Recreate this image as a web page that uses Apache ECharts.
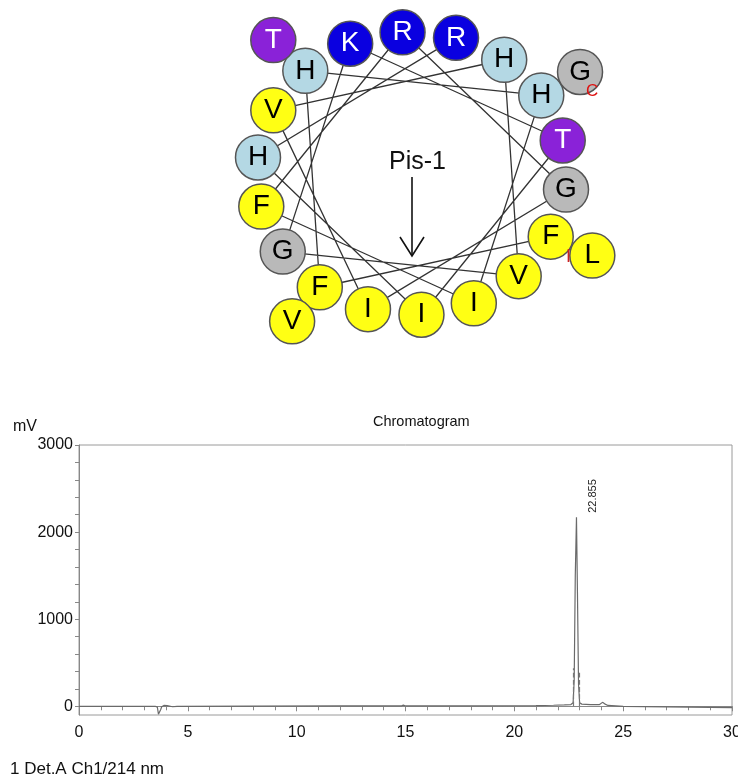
<!DOCTYPE html>
<html><head><meta charset="utf-8">
<script src="https://cdn.jsdelivr.net/npm/echarts@6/dist/echarts.min.js"></script>
<style>html,body{margin:0;padding:0;background:#fff}#c{width:738px;height:778px}</style>
</head><body><div id="c"></div><script>
// ---- Helical wheel data (Pis-1 sequence, N -> C) ----
const sequence = ['F','F','H','H','I','F','R','G','I','V','H','V','G','K','T','I','H','R','L','V','T','G'];
const residueColors = {F:'#ffff14', I:'#ffff14', V:'#ffff14', L:'#ffff14', H:'#b4d8e4', G:'#b9b9b9', K:'#0a00e0', R:'#0a00e0', T:'#8a22d8'};
const whiteLetterResidues = ['K','R','T'];
const firstAngleDeg = 116.5;   // angle of residue 1 (clockwise from top)
const stepAngleDeg = 100;      // alpha-helix rotation per residue
const residuesPerTurnRing = 18;
const ringRadii = [1, 1.3];

// ---- Chromatogram data ----
const timeMin = [0, 3.5, 3.6, 3.65, 3.7, 3.75, 3.8, 3.9, 4.05, 4.3, 4.5, 8, 12, 14.8, 14.9, 15.0, 18, 21, 21.8, 22.3, 22.6, 22.7, 22.75, 22.8, 22.855, 22.9, 22.95, 23.0, 23.1, 23.5, 23.9, 24.05, 24.15, 24.3, 25, 30];
const signalMV = [0, 0, -10, -90, -95, -40, -5, 10, 8, -5, 0, 2, 4, 4, 14, 4, 4, 7, 12, 16, 20, 40, 300, 1500, 2170, 1300, 250, 40, 25, 18, 18, 45, 28, 10, 0, -15];
const markerTimes = [22.71, 22.98];
const markerHeights = [437, 405];
const peakTime = 22.855;
const peakHeight = 2170;
const peakLabel = '22.855';
const xTickLabels = [0, 5, 10, 15, 20, 25, 30];
const yTickLabels = [0, 1000, 2000, 3000];
const yMinorTicks = [0, 200, 400, 600, 800, 1000, 1200, 1400, 1600, 1800, 2000, 2200, 2400, 2600, 2800, 3000];

const FONT = '"Liberation Sans", Arial, sans-serif';

function wheelPos(i) {
  const ring = Math.floor(i / residuesPerTurnRing);
  const a = (firstAngleDeg + stepAngleDeg * i) * Math.PI / 180;
  const r = ringRadii[ring];
  return [r * Math.sin(a), r * Math.cos(a)];
}
const wheelPoints = sequence.map((aa, i) => {
  const p = wheelPos(i);
  const white = whiteLetterResidues.indexOf(aa) >= 0;
  return {
    value: p, name: aa,
    itemStyle: {color: residueColors[aa]},
    label: {color: white ? '#ffffff' : '#000000'}
  };
});
const connectPoints = sequence.slice(0, residuesPerTurnRing).map((aa, i) => wheelPos(i));

const trace = timeMin.map((t, i) => [t, signalMV[i]]);

const chart = echarts.init(document.getElementById('c'), null, {renderer: 'canvas'});
chart.setOption({
  animation: false,
  backgroundColor: '#ffffff',
  textStyle: {fontFamily: FONT},
  title: [
    {text: 'Chromatogram', left: 373, top: 414, padding: 0, textStyle: {fontSize: 14.5, fontWeight: 'normal', color: '#111', fontFamily: FONT}},
    {text: 'mV', left: 13, top: 419, padding: 0, textStyle: {fontSize: 16, fontWeight: 'normal', color: '#111', fontFamily: FONT}},
    {text: '1 Det.A Ch1/214 nm', left: 10, top: 761, padding: 0, textStyle: {fontSize: 17, fontWeight: 'normal', color: '#111', fontFamily: FONT}}
  ],
  grid: [
    {left: 257, top: 32, width: 310, height: 283, show: false, outerBoundsMode: 'none', containLabel: false},
    {left: 79, top: 445, width: 653, height: 270, show: true, borderColor: '#9a9a9a', borderWidth: 1, backgroundColor: 'transparent', outerBoundsMode: 'none', containLabel: false}
  ],
  xAxis: [
    {gridIndex: 0, type: 'value', min: -1, max: 1, show: false},
    {gridIndex: 1, type: 'value', min: 0, max: 30, interval: 5,
     axisLine: {show: true, lineStyle: {color: '#888', width: 1}},
     axisTick: {show: true, length: 5, lineStyle: {color: '#888'}},
     minorTick: {show: true, splitNumber: 5, length: 4, lineStyle: {color: '#888'}},
     axisLabel: {fontSize: 16, color: '#111', margin: 10, customValues: xTickLabels, formatter: v => String(v)},
     splitLine: {show: false}}
  ],
  yAxis: [
    {gridIndex: 0, type: 'value', min: -1, max: 1, show: false},
    {gridIndex: 1, type: 'value', min: -100, max: 3000,
     axisLine: {show: true, lineStyle: {color: '#888', width: 1}},
     axisTick: {show: true, length: 4, customValues: yMinorTicks, lineStyle: {color: '#888'}},
     axisLabel: {fontSize: 16, color: '#111', margin: 6, customValues: yTickLabels, formatter: v => String(v)},
     splitLine: {show: false}}
  ],
  series: [
    {type: 'line', xAxisIndex: 0, yAxisIndex: 0, data: connectPoints, symbol: 'none', clip: false, z: 1,
     lineStyle: {color: '#333', width: 1.3}, silent: true},
    {type: 'scatter', xAxisIndex: 0, yAxisIndex: 0, data: wheelPoints, symbolSize: 45, clip: false, z: 3,
     itemStyle: {borderColor: '#555', borderWidth: 1.5, opacity: 1},
     label: {show: true, position: 'inside', formatter: p => p.name, fontSize: 28, fontFamily: FONT}},
    {type: 'line', xAxisIndex: 1, yAxisIndex: 1, data: trace, symbol: 'none', z: 4,
     lineStyle: {color: '#6a6a6a', width: 1.2},
     markLine: {silent: true, symbol: ['none', 'none'], label: {show: false},
       lineStyle: {type: 'dashed', color: '#777', width: 1.2},
       data: markerTimes.map((t, i) => [{coord: [t, 0]}, {coord: [t, markerHeights[i]]}])},
     markPoint: {silent: true, symbol: 'circle', symbolSize: 1, itemStyle: {color: 'transparent'},
       data: [{coord: [peakTime, peakHeight], value: peakLabel}],
       label: {show: true, formatter: peakLabel, rotate: 90, position: [17, -4], align: 'left', verticalAlign: 'middle', fontSize: 11, color: '#222', fontFamily: FONT}}
    }
  ],
  graphic: [
    {type: 'text', left: 389, top: 150, z: 100, style: {text: 'Pis-1', fill: '#111', font: '25px ' + FONT}},
    {type: 'line', z: 100, shape: {x1: 412, y1: 177, x2: 412, y2: 256}, style: {stroke: '#111', lineWidth: 1.6}},
    {type: 'polyline', z: 100, shape: {points: [[400, 237], [412, 256], [424, 237]]}, style: {stroke: '#111', lineWidth: 1.6, fill: null}},
    {type: 'text', left: 586, top: 83, z: 100, style: {text: 'C', font: '17px ' + FONT, fill: '#dd1111'}},
    {type: 'text', left: 566, top: 248, z: 100, style: {text: 'I', font: '18px ' + FONT, fill: '#cc2222'}}
  ]
});
</script></body></html>
